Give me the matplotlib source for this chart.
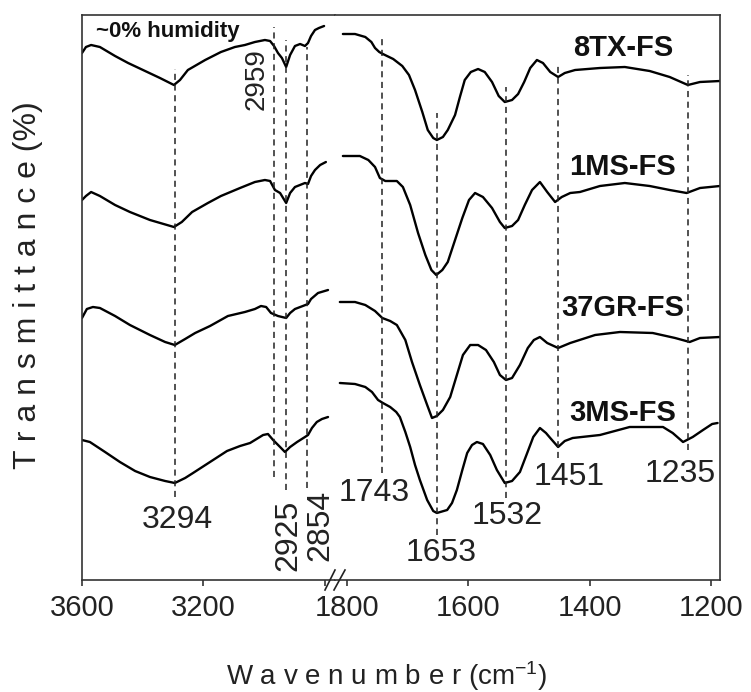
import matplotlib
matplotlib.use('Agg')

import matplotlib.pyplot as plt
from matplotlib.lines import Line2D

plt.rcParams['font.family'] = ['Liberation Sans', 'DejaVu Sans']
plt.rcParams['mathtext.fontset'] = 'custom'
plt.rcParams['mathtext.rm'] = 'Liberation Sans'
plt.rcParams['mathtext.it'] = 'Liberation Sans:italic'

# ---- data (transmittance in arbitrary, offset units) ----
names = ["8TX-FS", "1MS-FS", "37GR-FS", "3MS-FS"]

# high wavenumber region 3600-2790
wn_hi_1 = [3600, 3587, 3570, 3541, 3491, 3448, 3392, 3343, 3297, 3277, 3251, 3194, 3142, 3096,
           3063, 3030, 2997, 2980, 2967, 2954, 2941, 2927, 2914, 2898, 2881, 2865, 2855, 2845,
           2832, 2819, 2802]
t_hi_1 = [527, 533, 535, 533, 524, 517, 509, 502, 495, 500, 510, 520, 528, 533,
          535, 538, 540, 539, 534, 527, 522, 513, 525, 534, 536, 534, 537, 544,
          550, 552, 554]

wn_hi_2 = [3600, 3587, 3570, 3541, 3491, 3442, 3376, 3297, 3271, 3237, 3185, 3142, 3079, 3030,
           2997, 2980, 2964, 2947, 2927, 2914, 2898, 2865, 2855, 2845, 2832, 2815, 2796]
t_hi_2 = [380, 384, 388, 384, 375, 368, 360, 353, 358, 368, 377, 384, 392, 398,
          400, 399, 390, 387, 377, 387, 393, 397, 396, 404, 410, 415, 418]

wn_hi_3 = [3600, 3584, 3564, 3541, 3491, 3442, 3376, 3326, 3294, 3260, 3227, 3178, 3119, 3063,
           3030, 3010, 2993, 2977, 2954, 2927, 2914, 2898, 2872, 2855, 2845, 2822, 2789]
t_hi_3 = [262, 271, 273, 272, 264, 255, 245, 238, 235, 241, 247, 254, 264, 268,
          271, 274, 273, 267, 264, 262, 267, 271, 274, 276, 281, 287, 290]

wn_hi_4 = [3600, 3574, 3524, 3475, 3425, 3376, 3326, 3294, 3260, 3234, 3178, 3122, 3079, 3046,
           3003, 2987, 2970, 2947, 2931, 2914, 2891, 2865, 2855, 2842, 2826, 2809, 2789]
t_hi_4 = [140, 138, 128, 118, 109, 103, 99, 97, 102, 107, 118, 129, 134, 137,
          145, 146, 140, 133, 128, 133, 138, 143, 145, 152, 158, 161, 163]

# fingerprint region 1810-1185
wn_lo_1 = [1807, 1787, 1770, 1760, 1754, 1747, 1741, 1724, 1709, 1698, 1688, 1676, 1667, 1658,
           1652, 1642, 1634, 1622, 1614, 1606, 1596, 1584, 1573, 1561, 1550, 1540, 1528, 1518,
           1508, 1498, 1487, 1477, 1465, 1452, 1441, 1424, 1383, 1342, 1301, 1268, 1238, 1218,
           1185]
t_lo_1 = [546, 546, 543, 538, 532, 528, 526, 521, 514, 505, 490, 468, 450, 442,
          440, 443, 450, 465, 483, 500, 508, 511, 508, 498, 484, 478, 480, 486,
          498, 512, 520, 517, 508, 503, 507, 510, 512, 513, 509, 503, 495, 498,
          499]

wn_lo_2 = [1807, 1779, 1765, 1754, 1746, 1737, 1718, 1708, 1696, 1683, 1671, 1661, 1653, 1643,
           1634, 1622, 1610, 1599, 1589, 1576, 1561, 1548, 1540, 1528, 1518, 1507, 1495, 1482,
           1470, 1457, 1446, 1432, 1416, 1383, 1342, 1301, 1268, 1240, 1218, 1185]
t_lo_2 = [424, 424, 420, 413, 402, 399, 399, 393, 375, 347, 325, 310, 305, 310,
          318, 340, 362, 380, 387, 383, 372, 358, 352, 354, 360, 375, 390, 398,
          388, 378, 383, 387, 388, 394, 397, 394, 390, 387, 392, 394]

wn_lo_3 = [1812, 1787, 1770, 1754, 1742, 1729, 1718, 1704, 1693, 1680, 1668, 1660, 1652, 1642,
           1630, 1619, 1609, 1597, 1584, 1571, 1558, 1548, 1538, 1528, 1515, 1502, 1492, 1482,
           1470, 1452, 1432, 1391, 1350, 1296, 1259, 1235, 1218, 1185]
t_lo_3 = [278, 278, 275, 269, 262, 259, 255, 240, 218, 195, 175, 162, 164, 170,
          183, 205, 225, 235, 235, 230, 218, 205, 200, 202, 215, 232, 240, 243,
          237, 232, 237, 245, 248, 247, 242, 238, 242, 243]

wn_lo_4 = [1812, 1787, 1770, 1759, 1749, 1741, 1729, 1719, 1713, 1704, 1696, 1688, 1680, 1668,
           1658, 1652, 1635, 1627, 1619, 1610, 1602, 1594, 1586, 1576, 1564, 1553, 1540, 1528,
           1515, 1503, 1493, 1482, 1472, 1465, 1452, 1441, 1428, 1383, 1334, 1279, 1263, 1246,
           1230, 1213, 1198, 1189]
t_lo_4 = [197, 196, 193, 188, 180, 177, 173, 168, 163, 148, 133, 115, 100, 80,
          69, 67, 70, 77, 90, 110, 127, 135, 138, 136, 125, 110, 97, 99,
          108, 127, 143, 152, 147, 142, 133, 139, 142, 145, 153, 153, 147, 138,
          143, 150, 156, 157]

# marked bands: position, dashed line extent
peaks_hi = [3294, 2968, 2927, 2858]
peaks_hi_top = [511, 553, 540, 533]
peaks_hi_bot = [83, 103, 90, 92]
peaks_lo = [1742, 1652, 1538, 1452, 1238]
peaks_lo_top = [543, 467, 493, 515, 505]
peaks_lo_bot = [107, 45, 82, 122, 130]

# ---- figure ----
W, H = 751, 692
fig = plt.figure(figsize=(W / 100, H / 100), dpi=100)
x0, xs, x1 = 82, 335, 720
yb, yt = 580, 15
ax1 = fig.add_axes([x0 / W, 1 - yb / H, (xs - x0) / W, (yb - yt) / H])
ax2 = fig.add_axes([xs / W, 1 - yb / H, (x1 - xs) / W, (yb - yt) / H])

lw = 1.7
for wn, t in [(wn_hi_1, t_hi_1), (wn_hi_2, t_hi_2), (wn_hi_3, t_hi_3), (wn_hi_4, t_hi_4)]:
    ax1.plot(wn, t, color='black', lw=lw, solid_joinstyle='round', solid_capstyle='round')
for wn, t in [(wn_lo_1, t_lo_1), (wn_lo_2, t_lo_2), (wn_lo_3, t_lo_3), (wn_lo_4, t_lo_4)]:
    ax2.plot(wn, t, color='black', lw=lw, solid_joinstyle='round', solid_capstyle='round')

dash = (0, (4, 3))
ax1.vlines(peaks_hi, peaks_hi_bot, peaks_hi_top, colors='#222222', linestyles=dash, lw=1.1)
ax2.vlines(peaks_lo, peaks_lo_bot, peaks_lo_top, colors='#222222', linestyles=dash, lw=1.1)

for ax in (ax1, ax2):
    ax.set_ylim(0, 565)
    ax.set_yticks([])
    ax.tick_params(axis='x', direction='out', length=4, width=1.1, pad=6,
                   labelsize=21, colors='#222222')
    for s in ax.spines.values():
        s.set_linewidth(1.2)
        s.set_color('#333333')

ax1.set_xlim(3600, 2766)
ax1.set_xticks([3600, 3200, 2800])
ax1.set_xticklabels(['3600', '3200', ''])
ax1.spines['right'].set_visible(False)

ax2.set_xlim(1820, 1185)
ax2.set_xticks([1800, 1600, 1400, 1200])
ax2.set_xticklabels(['1800', '1600', '1400', '1200'])
ax2.spines['left'].set_visible(False)

# band labels
tc = '#222222'
ax1.text(3287, 60, '3294', fontsize=23, ha='center', va='center', color=tc)
ax1.text(3023, 501, '2959', fontsize=20, ha='center', va='center', rotation=90, color=tc)
ax1.text(2921, 45, '2925', fontsize=23, ha='center', va='center', rotation=90, color=tc)
ax1.text(2815, 55, '2854', fontsize=23, ha='center', va='center', rotation=90, color=tc,
         clip_on=False)
ax2.text(1756, 87, '1743', fontsize=23, ha='center', va='center', color=tc)
ax2.text(1645, 27, '1653', fontsize=23, ha='center', va='center', color=tc)
ax2.text(1536, 64, '1532', fontsize=23, ha='center', va='center', color=tc)
ax2.text(1433, 103, '1451', fontsize=23, ha='center', va='center', color=tc)
ax2.text(1251, 106, '1235', fontsize=23, ha='center', va='center', color=tc)

# sample names
name_y = [532, 413, 272, 167]
for n, y in zip(names, name_y):
    ax2.text(1345, y, n, fontsize=21, fontweight='bold', ha='center', va='center', color='#111111')

ax1.text(3554, 549, '~0% humidity', fontsize=16, fontweight='bold', ha='left', va='center',
         color='#111111')

# axis break marks
for xa, xb in [(325, 335), (334, 345)]:
    fig.add_artist(Line2D([xa / W, xb / W], [1 - 590 / H, 1 - 570 / H],
                          transform=fig.transFigure, color='#222222', lw=1.2))

fig.text(28 / W, 1 - 285 / H, 'T r a n s m i t t a n c e (%)', rotation=90,
         ha='center', va='center', fontsize=23, color=tc)
fig.text(387 / W, 1 - 676 / H, 'W a v e n u m b e r (cm$^{-1}$)',
         ha='center', va='center', fontsize=20, color=tc)

fig.savefig('out.png', dpi=100)
